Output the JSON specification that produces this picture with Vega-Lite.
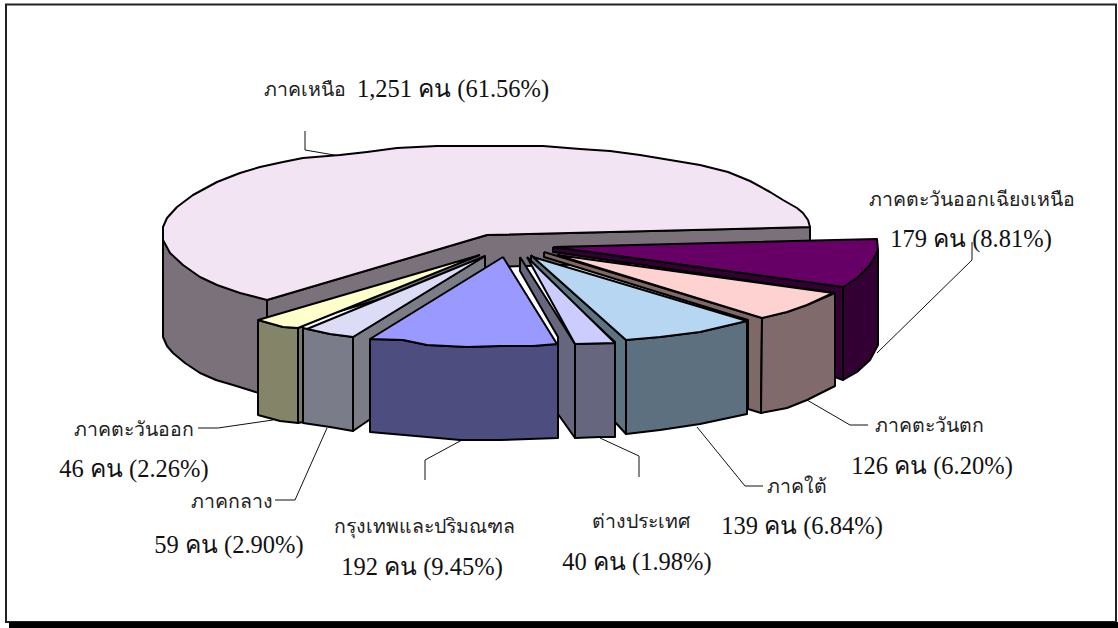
{
"$schema":"https://vega.github.io/schema/vega-lite/v6.json",
"width":1118,"height":628,"padding":0,
"autosize":{"type":"fit","contains":"padding"},
"background":"white",
"config":{"view":{"stroke":null}},
"datasets":{
"frame":[{"x":6,"x2":1116,"y":4.5,"y2":622}],
"base":[{"x":9,"x2":1118,"y":622,"y2":628}],
"shapes":[
{"piece":"north wall","seq":1,"x":163,"y":227},{"piece":"north wall","seq":2,"x":163,"y":337},{"piece":"north wall","seq":3,"x":167,"y":346},{"piece":"north wall","seq":4,"x":173,"y":353},{"piece":"north wall","seq":5,"x":185,"y":363},{"piece":"north wall","seq":6,"x":200,"y":373},{"piece":"north wall","seq":7,"x":216,"y":380},{"piece":"north wall","seq":8,"x":233,"y":385},{"piece":"north wall","seq":9,"x":262,"y":394},{"piece":"north wall","seq":10,"x":268,"y":300},{"piece":"north wall","seq":11,"x":163,"y":227},
{"piece":"north inner","seq":1,"x":267,"y":300},{"piece":"north inner","seq":2,"x":487,"y":235},{"piece":"north inner","seq":3,"x":810,"y":227},{"piece":"north inner","seq":4,"x":810,"y":258},{"piece":"north inner","seq":5,"x":487,"y":267},{"piece":"north inner","seq":6,"x":267,"y":333},{"piece":"north inner","seq":7,"x":267,"y":300},
{"piece":"north top","seq":1,"x":267,"y":300},{"piece":"north top","seq":2,"x":240,"y":293},{"piece":"north top","seq":3,"x":217,"y":285},{"piece":"north top","seq":4,"x":200,"y":277},{"piece":"north top","seq":5,"x":183,"y":265},{"piece":"north top","seq":6,"x":170,"y":253},{"piece":"north top","seq":7,"x":163,"y":240},{"piece":"north top","seq":8,"x":163,"y":227},{"piece":"north top","seq":9,"x":167,"y":218},{"piece":"north top","seq":10,"x":177,"y":207},{"piece":"north top","seq":11,"x":193,"y":195},{"piece":"north top","seq":12,"x":217,"y":182},{"piece":"north top","seq":13,"x":240,"y":173},{"piece":"north top","seq":14,"x":260,"y":167},{"piece":"north top","seq":15,"x":283,"y":162},{"piece":"north top","seq":16,"x":303,"y":158},{"piece":"north top","seq":17,"x":340,"y":155},{"piece":"north top","seq":18,"x":367,"y":152},{"piece":"north top","seq":19,"x":397,"y":148},{"piece":"north top","seq":20,"x":437,"y":146},{"piece":"north top","seq":21,"x":543,"y":146},{"piece":"north top","seq":22,"x":580,"y":149},{"piece":"north top","seq":23,"x":610,"y":151},{"piece":"north top","seq":24,"x":640,"y":155},{"piece":"north top","seq":25,"x":670,"y":160},{"piece":"north top","seq":26,"x":700,"y":165},{"piece":"north top","seq":27,"x":728,"y":172},{"piece":"north top","seq":28,"x":750,"y":181},{"piece":"north top","seq":29,"x":770,"y":192},{"piece":"north top","seq":30,"x":783,"y":200},{"piece":"north top","seq":31,"x":797,"y":208},{"piece":"north top","seq":32,"x":803,"y":213},{"piece":"north top","seq":33,"x":808,"y":220},{"piece":"north top","seq":34,"x":810,"y":227},{"piece":"north top","seq":35,"x":487,"y":235},{"piece":"north top","seq":36,"x":267,"y":300},
{"piece":"northeast front","seq":1,"x":843,"y":287},{"piece":"northeast front","seq":2,"x":857,"y":278},{"piece":"northeast front","seq":3,"x":870,"y":265},{"piece":"northeast front","seq":4,"x":878,"y":250},{"piece":"northeast front","seq":5,"x":878,"y":345},{"piece":"northeast front","seq":6,"x":870,"y":360},{"piece":"northeast front","seq":7,"x":857,"y":372},{"piece":"northeast front","seq":8,"x":843,"y":380},{"piece":"northeast front","seq":9,"x":843,"y":287},
{"piece":"northeast side","seq":1,"x":553,"y":247},{"piece":"northeast side","seq":2,"x":843,"y":287},{"piece":"northeast side","seq":3,"x":843,"y":380},{"piece":"northeast side","seq":4,"x":835,"y":377},{"piece":"northeast side","seq":5,"x":835,"y":293},{"piece":"northeast side","seq":6,"x":553,"y":252},{"piece":"northeast side","seq":7,"x":553,"y":247},
{"piece":"northeast top","seq":1,"x":554,"y":247},{"piece":"northeast top","seq":2,"x":877,"y":239},{"piece":"northeast top","seq":3,"x":878,"y":250},{"piece":"northeast top","seq":4,"x":870,"y":265},{"piece":"northeast top","seq":5,"x":857,"y":278},{"piece":"northeast top","seq":6,"x":843,"y":287},{"piece":"northeast top","seq":7,"x":554,"y":247},
{"piece":"west side","seq":1,"x":544,"y":252},{"piece":"west side","seq":2,"x":762,"y":318},{"piece":"west side","seq":3,"x":761,"y":413},{"piece":"west side","seq":4,"x":748,"y":409},{"piece":"west side","seq":5,"x":748,"y":320},{"piece":"west side","seq":6,"x":544,"y":257},{"piece":"west side","seq":7,"x":544,"y":252},
{"piece":"west front","seq":1,"x":762,"y":318},{"piece":"west front","seq":2,"x":787,"y":312},{"piece":"west front","seq":3,"x":807,"y":305},{"piece":"west front","seq":4,"x":835,"y":293},{"piece":"west front","seq":5,"x":835,"y":386},{"piece":"west front","seq":6,"x":807,"y":400},{"piece":"west front","seq":7,"x":787,"y":408},{"piece":"west front","seq":8,"x":761,"y":413},{"piece":"west front","seq":9,"x":762,"y":318},
{"piece":"west top","seq":1,"x":557,"y":255},{"piece":"west top","seq":2,"x":762,"y":318},{"piece":"west top","seq":3,"x":787,"y":312},{"piece":"west top","seq":4,"x":807,"y":305},{"piece":"west top","seq":5,"x":833,"y":293},{"piece":"west top","seq":6,"x":557,"y":255},
{"piece":"south side","seq":1,"x":531,"y":255},{"piece":"south side","seq":2,"x":626,"y":340},{"piece":"south side","seq":3,"x":626,"y":434},{"piece":"south side","seq":4,"x":615,"y":422},{"piece":"south side","seq":5,"x":615,"y":342},{"piece":"south side","seq":6,"x":531,"y":264},{"piece":"south side","seq":7,"x":531,"y":255},
{"piece":"south front","seq":1,"x":626,"y":340},{"piece":"south front","seq":2,"x":660,"y":337},{"piece":"south front","seq":3,"x":700,"y":332},{"piece":"south front","seq":4,"x":747,"y":321},{"piece":"south front","seq":5,"x":747,"y":414},{"piece":"south front","seq":6,"x":700,"y":424},{"piece":"south front","seq":7,"x":660,"y":430},{"piece":"south front","seq":8,"x":626,"y":434},{"piece":"south front","seq":9,"x":626,"y":340},
{"piece":"south top","seq":1,"x":533,"y":257},{"piece":"south top","seq":2,"x":626,"y":340},{"piece":"south top","seq":3,"x":660,"y":337},{"piece":"south top","seq":4,"x":700,"y":332},{"piece":"south top","seq":5,"x":747,"y":321},{"piece":"south top","seq":6,"x":533,"y":257},
{"piece":"foreign side","seq":1,"x":520,"y":257},{"piece":"foreign side","seq":2,"x":575,"y":344},{"piece":"foreign side","seq":3,"x":575,"y":438},{"piece":"foreign side","seq":4,"x":558,"y":414},{"piece":"foreign side","seq":5,"x":558,"y":337},{"piece":"foreign side","seq":6,"x":520,"y":271},{"piece":"foreign side","seq":7,"x":520,"y":257},
{"piece":"foreign front","seq":1,"x":575,"y":344},{"piece":"foreign front","seq":2,"x":615,"y":343},{"piece":"foreign front","seq":3,"x":615,"y":437},{"piece":"foreign front","seq":4,"x":600,"y":437},{"piece":"foreign front","seq":5,"x":575,"y":438},{"piece":"foreign front","seq":6,"x":575,"y":344},
{"piece":"foreign top","seq":1,"x":527,"y":257},{"piece":"foreign top","seq":2,"x":575,"y":344},{"piece":"foreign top","seq":3,"x":615,"y":343},{"piece":"foreign top","seq":4,"x":527,"y":257},
{"piece":"east front","seq":1,"x":258,"y":320},{"piece":"east front","seq":2,"x":283,"y":327},{"piece":"east front","seq":3,"x":298,"y":328},{"piece":"east front","seq":4,"x":298,"y":423},{"piece":"east front","seq":5,"x":280,"y":421},{"piece":"east front","seq":6,"x":258,"y":415},{"piece":"east front","seq":7,"x":258,"y":320},
{"piece":"east side","seq":1,"x":298,"y":328},{"piece":"east side","seq":2,"x":303,"y":326},{"piece":"east side","seq":3,"x":303,"y":422},{"piece":"east side","seq":4,"x":298,"y":423},{"piece":"east side","seq":5,"x":298,"y":328},
{"piece":"east top","seq":1,"x":480,"y":255},{"piece":"east top","seq":2,"x":258,"y":320},{"piece":"east top","seq":3,"x":283,"y":327},{"piece":"east top","seq":4,"x":298,"y":328},{"piece":"east top","seq":5,"x":480,"y":255},
{"piece":"central side","seq":1,"x":353,"y":337},{"piece":"central side","seq":2,"x":485,"y":256},{"piece":"central side","seq":3,"x":485,"y":290},{"piece":"central side","seq":4,"x":372,"y":418},{"piece":"central side","seq":5,"x":353,"y":431},{"piece":"central side","seq":6,"x":353,"y":337},
{"piece":"central front","seq":1,"x":303,"y":328},{"piece":"central front","seq":2,"x":330,"y":334},{"piece":"central front","seq":3,"x":353,"y":337},{"piece":"central front","seq":4,"x":353,"y":431},{"piece":"central front","seq":5,"x":330,"y":427},{"piece":"central front","seq":6,"x":303,"y":423},{"piece":"central front","seq":7,"x":303,"y":328},
{"piece":"central top","seq":1,"x":485,"y":256},{"piece":"central top","seq":2,"x":307,"y":329},{"piece":"central top","seq":3,"x":330,"y":334},{"piece":"central top","seq":4,"x":353,"y":337},{"piece":"central top","seq":5,"x":485,"y":256},
{"piece":"bangkok front","seq":1,"x":370,"y":339},{"piece":"bangkok front","seq":2,"x":403,"y":340},{"piece":"bangkok front","seq":3,"x":427,"y":345},{"piece":"bangkok front","seq":4,"x":467,"y":347},{"piece":"bangkok front","seq":5,"x":500,"y":346},{"piece":"bangkok front","seq":6,"x":533,"y":346},{"piece":"bangkok front","seq":7,"x":558,"y":344},{"piece":"bangkok front","seq":8,"x":558,"y":438},{"piece":"bangkok front","seq":9,"x":500,"y":440},{"piece":"bangkok front","seq":10,"x":460,"y":440},{"piece":"bangkok front","seq":11,"x":427,"y":437},{"piece":"bangkok front","seq":12,"x":370,"y":432},{"piece":"bangkok front","seq":13,"x":370,"y":339},
{"piece":"bangkok top","seq":1,"x":503,"y":257},{"piece":"bangkok top","seq":2,"x":370,"y":339},{"piece":"bangkok top","seq":3,"x":403,"y":340},{"piece":"bangkok top","seq":4,"x":427,"y":345},{"piece":"bangkok top","seq":5,"x":467,"y":347},{"piece":"bangkok top","seq":6,"x":500,"y":346},{"piece":"bangkok top","seq":7,"x":533,"y":346},{"piece":"bangkok top","seq":8,"x":557,"y":344},{"piece":"bangkok top","seq":9,"x":503,"y":257}
],
"leaders":[
{"region":"north","seq":1,"x":305,"y":131},{"region":"north","seq":2,"x":305,"y":150},{"region":"north","seq":3,"x":340,"y":156},
{"region":"northeast","seq":1,"x":972,"y":242},{"region":"northeast","seq":2,"x":972,"y":260},{"region":"northeast","seq":3,"x":877,"y":353},
{"region":"west","seq":1,"x":807,"y":400},{"region":"west","seq":2,"x":850,"y":425},{"region":"west","seq":3,"x":868,"y":425},
{"region":"south","seq":1,"x":697,"y":427},{"region":"south","seq":2,"x":745,"y":486},{"region":"south","seq":3,"x":763,"y":486},
{"region":"foreign","seq":1,"x":600,"y":438},{"region":"foreign","seq":2,"x":639,"y":456},{"region":"foreign","seq":3,"x":639,"y":477},
{"region":"bangkok","seq":1,"x":462,"y":440},{"region":"bangkok","seq":2,"x":425,"y":460},{"region":"bangkok","seq":3,"x":425,"y":480},
{"region":"central","seq":1,"x":327,"y":428},{"region":"central","seq":2,"x":295,"y":500},{"region":"central","seq":3,"x":275,"y":500},
{"region":"east","seq":1,"x":273,"y":420},{"region":"east","seq":2,"x":218,"y":428},{"region":"east","seq":3,"x":198,"y":428}
],
"names":[
{"label":"ภาคเหนือ","x":305,"y":90},
{"label":"ภาคตะวันออกเฉียงเหนือ","x":972,"y":200},
{"label":"ภาคตะวันตก","x":929,"y":426},
{"label":"ภาคใต้","x":797,"y":487},
{"label":"ต่างประเทศ","x":641,"y":522},
{"label":"กรุงเทพและปริมณฑล","x":424,"y":527},
{"label":"ภาคกลาง","x":232,"y":502},
{"label":"ภาคตะวันออก","x":134,"y":430}
],
"counts":[
{"label":"1,251 คน (61.56%)","x":453,"y":90},
{"label":"179 คน (8.81%)","x":971,"y":240},
{"label":"126 คน (6.20%)","x":932,"y":467},
{"label":"139 คน (6.84%)","x":802,"y":527},
{"label":"40 คน (1.98%)","x":637,"y":563},
{"label":"192 คน (9.45%)","x":422,"y":568},
{"label":"59 คน (2.90%)","x":229,"y":546},
{"label":"46 คน (2.26%)","x":134,"y":470}
]
},
"layer":[
{"data":{"name":"frame"},"mark":{"type":"rect","fill":"white","stroke":"#222222","strokeWidth":2},
 "encoding":{"x":{"field":"x","type":"quantitative","scale":{"domain":[0,1118],"nice":false,"zero":false},"axis":null},"x2":{"field":"x2"},"y":{"field":"y","type":"quantitative","scale":{"domain":[628,0],"nice":false,"zero":false},"axis":null},"y2":{"field":"y2"}}},
{"data":{"name":"base"},"mark":{"type":"rect","fill":"black"},
 "encoding":{"x":{"field":"x","type":"quantitative","axis":null},"x2":{"field":"x2"},"y":{"field":"y","type":"quantitative","axis":null},"y2":{"field":"y2"}}},
{"data":{"name":"leaders"},"mark":{"type":"line","stroke":"#111111","strokeWidth":1,"interpolate":"linear"},
 "encoding":{"x":{"field":"x","type":"quantitative","axis":null},"y":{"field":"y","type":"quantitative","axis":null},"detail":{"field":"region"},"order":{"field":"seq"}}},
{"data":{"name":"shapes"},"mark":{"type":"line","stroke":"black","strokeWidth":2,"strokeJoin":"round","interpolate":"linear"},
 "encoding":{"x":{"field":"x","type":"quantitative","axis":null},"y":{"field":"y","type":"quantitative","axis":null},"order":{"field":"seq"},
 "fill":{"field":"piece","type":"nominal","legend":null,"scale":{
 "domain":["north wall","north inner","north top","northeast front","northeast side","northeast top","west side","west front","west top","south side","south front","south top","foreign side","foreign front","foreign top","east front","east side","east top","central side","central front","central top","bangkok front","bangkok top"],
 "range":["#7b717b","#7b717b","#f3e4f3","#330033","#330033","#660066","#7f6868","#806a6c","#ffd2d2","#5e7380","#5c7080","#b6d6f2","#66667f","#66667f","#ccccff","#848468","#7a7a60","#ffffcc","#7b7c86","#7b7c8a","#dcdcf6","#4d4d80","#9999ff"]}}}},
{"data":{"name":"names"},"mark":{"type":"text","font":"Liberation Serif","fontSize":19.5,"color":"#222222","align":"center","baseline":"middle"},
 "encoding":{"x":{"field":"x","type":"quantitative","axis":null},"y":{"field":"y","type":"quantitative","axis":null},"text":{"field":"label"}}},
{"data":{"name":"counts"},"mark":{"type":"text","font":"Liberation Serif","fontSize":24.5,"color":"#111111","align":"center","baseline":"middle"},
 "encoding":{"x":{"field":"x","type":"quantitative","axis":null},"y":{"field":"y","type":"quantitative","axis":null},"text":{"field":"label"}}}
]
}
